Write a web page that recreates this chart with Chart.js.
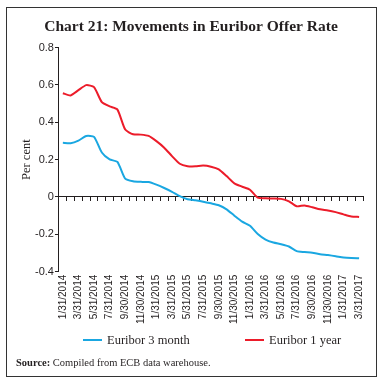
<!DOCTYPE html>
<html>
<head>
<meta charset="utf-8">
<script src="https://cdn.jsdelivr.net/npm/chart.js@4"></script>
<style>
  body { margin: 0; background: #fff; }
  #wrap { position: relative; width: 385px; height: 384px; }
  #frame { position: absolute; left: 6px; top: 7px; width: 371px; height: 370px; border: 1.5px solid #333; box-sizing: border-box; }
  canvas { position: absolute; left: 0; top: 0; }
  .lg { position: absolute; top: 333px; height: 16px; line-height: 16px; font: 12.5px "Liberation Serif", serif; color: #231f20; white-space: nowrap; }
  .lg i { display: inline-block; width: 19px; height: 2.5px; vertical-align: middle; margin-right: 5px; position: relative; top: -1px; }
  #src { position: absolute; left: 16px; top: 357px; font: 10.5px "Liberation Serif", serif; color: #231f20; }
</style>
</head>
<body>
<div id="wrap">
  <div id="frame"></div>
  <canvas id="chart" width="385" height="384"></canvas>
  <div id="legend"></div>
  <div id="src"><b>Source:</b> Compiled from ECB data warehouse.</div>
</div>
<script>
const months = [
  "1/31/2014", "2/28/2014", "3/31/2014", "4/30/2014", "5/31/2014", "6/30/2014",
  "7/31/2014", "8/31/2014", "9/30/2014", "10/31/2014", "11/30/2014", "12/31/2014",
  "1/31/2015", "2/28/2015", "3/31/2015", "4/30/2015", "5/31/2015", "6/30/2015",
  "7/31/2015", "8/31/2015", "9/30/2015", "10/31/2015", "11/30/2015", "12/31/2015",
  "1/31/2016", "2/29/2016", "3/31/2016", "4/30/2016", "5/31/2016", "6/30/2016",
  "7/31/2016", "8/31/2016", "9/30/2016", "10/31/2016", "11/30/2016", "12/31/2016",
  "1/31/2017", "2/28/2017", "3/31/2017"
];

const euribor3m = [
  0.29, 0.288, 0.302, 0.327, 0.322, 0.238, 0.201, 0.188, 0.098, 0.084, 0.081, 0.08,
  0.066, 0.048, 0.028, 0.005, -0.012, -0.018, -0.025, -0.034, -0.044, -0.066, -0.10, -0.132,
  -0.154, -0.198, -0.228, -0.244, -0.253, -0.265, -0.29, -0.295, -0.299, -0.306, -0.311, -0.317,
  -0.324, -0.327, -0.328
];

const euribor1y = [
  0.556, 0.544, 0.572, 0.599, 0.588, 0.508, 0.485, 0.468, 0.361, 0.336, 0.334, 0.327,
  0.299, 0.264, 0.219, 0.178, 0.165, 0.164, 0.168, 0.162, 0.148, 0.112, 0.073, 0.055,
  0.039, -0.004, -0.007, -0.008, -0.010, -0.023, -0.05, -0.045, -0.055, -0.066, -0.072, -0.081,
  -0.093, -0.104, -0.107
];

const yTicks = [-0.4, -0.2, 0, 0.2, 0.4, 0.6, 0.8];

const textColor = "#231f20";
const blue = "#1aa7e1";
const red = "#ec1c2a";

const ctx = document.getElementById("chart").getContext("2d");
const chart = new Chart(ctx, {
  type: "line",
  data: {
    labels: months,
    datasets: [
      {
        label: "Euribor 3 month",
        data: euribor3m,
        borderColor: blue,
        backgroundColor: blue,
        borderWidth: 2,
        pointRadius: 0,
        tension: 0.2,
        xAxisID: "x"
      },
      {
        label: "Euribor 1 year",
        data: euribor1y,
        borderColor: red,
        backgroundColor: red,
        borderWidth: 2,
        pointRadius: 0,
        tension: 0.2,
        xAxisID: "x"
      }
    ]
  },
  options: {
    responsive: false,
    animation: false,
    layout: {
      padding: { left: 19, right: 22, top: 0, bottom: 57 }
    },
    plugins: {
      title: {
        display: true,
        text: "Chart 21: Movements in Euribor Offer Rate",
        color: textColor,
        font: { family: "Liberation Serif", size: 15.5, weight: "bold" },
        padding: { top: 18, bottom: 11 }
      },
      legend: { display: false },
      tooltip: { enabled: false }
    },
    scales: {
      x: {
        type: "category",
        position: "bottom",
        offset: true,
        grid: { display: false, drawTicks: false },
        border: { display: false },
        ticks: {
          autoSkip: false,
          minRotation: 90,
          maxRotation: 90,
          padding: 3,
          color: textColor,
          font: { family: "Liberation Sans", size: 10 },
          callback: function (value, index) {
            return index % 2 === 0 ? this.getLabelForValue(value) : "";
          }
        }
      },
      xz: {
        type: "category",
        labels: months,
        position: { y: 0 },
        offset: true,
        grid: { offset: true, drawOnChartArea: false, drawTicks: true, tickLength: 4, color: "#231f20", lineWidth: 1 },
        border: { display: true, color: "#231f20", width: 1 },
        ticks: { display: false }
      },
      y: {
        min: -0.4,
        max: 0.8,
        afterBuildTicks: function (axis) {
          axis.ticks = yTicks.map(v => ({ value: v }));
        },
        grid: { drawOnChartArea: false, tickLength: 4, color: "#231f20" },
        border: { display: true, color: "#231f20", width: 1 },
        title: {
          display: true,
          text: "Per cent",
          color: textColor,
          font: { family: "Liberation Serif", size: 12.5 },
          padding: { top: 0, bottom: 0 }
        },
        ticks: {
          color: textColor,
          padding: 1,
          font: { family: "Liberation Sans", size: 11 },
          callback: function (value) {
            return String(Math.round(value * 10) / 10);
          }
        }
      }
    }
  }
});

// legend built from the datasets, placed like the original
const legendLeft = [83, 245];
const legendEl = document.getElementById("legend");
chart.data.datasets.forEach(function (ds, i) {
  const item = document.createElement("div");
  item.className = "lg";
  item.style.left = legendLeft[i] + "px";
  const swatch = document.createElement("i");
  swatch.style.background = ds.borderColor;
  item.appendChild(swatch);
  item.appendChild(document.createTextNode(ds.label));
  legendEl.appendChild(item);
});
</script>
</body>
</html>
